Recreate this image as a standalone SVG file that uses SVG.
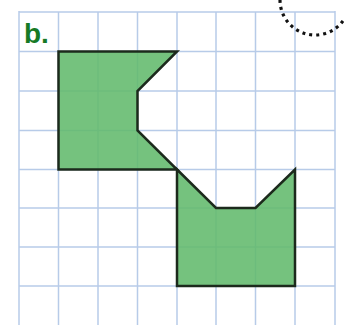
<svg xmlns="http://www.w3.org/2000/svg" width="344" height="325" viewBox="0 0 344 325">
  <style>
    .grid line { stroke: #b7cbe8; stroke-width: 1.5; }
    .border { stroke: #a9bfe0; stroke-width: 3; }
    .shape { fill: #62b96c; fill-opacity: 0.88; stroke: #1c2a1c; stroke-width: 2.5; stroke-linejoin: miter; }
    .label { font-family: "Liberation Sans", Arial, sans-serif; font-weight: bold; font-size: 28px; fill: #167a25; }
  </style>
  <rect width="344" height="325" fill="#ffffff"/>
  <g id="grid" class="grid">
    <line x1="58.5" y1="12" x2="58.5" y2="325"/>
    <line x1="98" y1="12" x2="98" y2="325"/>
    <line x1="137.5" y1="12" x2="137.5" y2="325"/>
    <line x1="177" y1="12" x2="177" y2="325"/>
    <line x1="216" y1="12" x2="216" y2="325"/>
    <line x1="255.5" y1="12" x2="255.5" y2="325"/>
    <line x1="295" y1="12" x2="295" y2="325"/>
    <line x1="19" y1="12" x2="335" y2="12"/>
    <line x1="19" y1="51.5" x2="335" y2="51.5"/>
    <line x1="19" y1="91" x2="335" y2="91"/>
    <line x1="19" y1="130.5" x2="335" y2="130.5"/>
    <line x1="19" y1="169.5" x2="335" y2="169.5"/>
    <line x1="19" y1="208" x2="335" y2="208"/>
    <line x1="19" y1="247" x2="335" y2="247"/>
    <line x1="19" y1="286" x2="335" y2="286"/>
    <line class="border" x1="19" y1="11" x2="19" y2="325"/>
    <line class="border" x1="335" y1="11" x2="335" y2="325"/>
  </g>
  <g id="shape-top">
    <polygon class="shape" points="58.5,51.5 177,51.5 137.5,91 137.5,130.5 177,169.5 58.5,169.5"/>
  </g>
  <g id="shape-bottom">
    <polygon class="shape" points="177,169.5 216,208 255.5,208 295,169.5 295,286 177,286"/>
  </g>
  <g id="label-b">
    <text class="label" x="24" y="43">b.</text>
  </g>
  <g id="dotted-arc">
    <path d="M 280 0 A 35 35 0 0 0 344 19.6" fill="none" stroke="#111" stroke-width="3.2" stroke-dasharray="3 4"/>
  </g>
</svg>
